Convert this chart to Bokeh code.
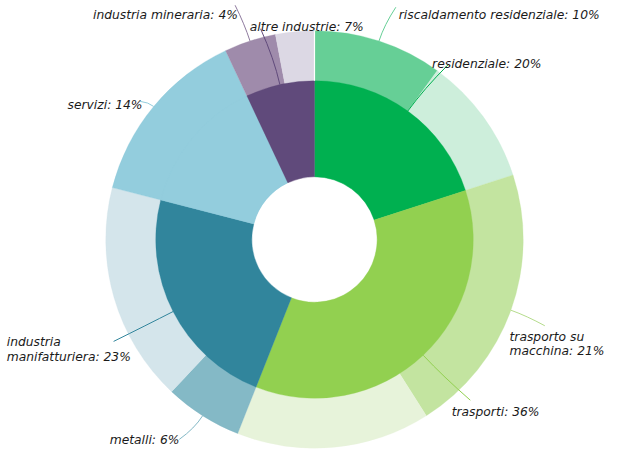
import math
from bokeh.plotting import figure
from bokeh.models import Range1d, ColumnDataSource
from bokeh.embed import file_html
from bokeh.resources import INLINE
from bokeh.core.properties import value

# ---------------- data ----------------
inner_labels = ["residenziale", "trasporti", "industria manifatturiera", "servizi", "altre industrie"]
inner_values = [20, 36, 23, 14, 7]
inner_colors = ["#00b050", "#92d050", "#31859c", "#93cddd", "#604a7b"]

outer_parents = [0, 0, 1, 1, 2, 2, 3, 4, 4]
outer_labels = ["riscaldamento residenziale", "", "trasporto su macchina", "", "metalli", "", "", "industria mineraria", ""]
outer_values = [10, 10, 21, 15, 6, 17, 14, 4, 3]
outer_colors = ["#66cf96", "#cdeedb", "#c3e4a0", "#e7f3da", "#84b9c6", "#d4e5eb", "#93cddd", "#9f8bab", "#dcd8e4"]

# ---------------- layout (reference pixel space) ----------------
CX, CY = 328.0, 254.0
R_HOLE, R_MID, R_OUT = 64.0, 162.0, 213.0

label_wrap = {"industria manifatturiera": "industria\nmanifatturiera",
              "trasporto su macchina": "trasporto su\nmacchina"}
# (text left x, first baseline y), (leader end point x, y)
label_layout = {
    "industria mineraria": ((102, 25), (247, 15)),
    "altre industrie": ((262, 37.5), (273, 39)),
    "riscaldamento residenziale": ((414, 25), (411, 17)),
    "residenziale": ((448, 74.5), (464, 76)),
    "servizi": ((76, 117), (150, 113)),
    "industria manifatturiera": ((14, 359), (123, 358)),
    "trasporto su macchina": ((527, 353), (563, 342)),
    "trasporti": ((468, 430), (487, 418)),
    "metalli": ((119, 459), (190, 458)),
}
line_colors = {
    "industria mineraria": "#8e7a9e", "altre industrie": "#604a7b",
    "riscaldamento residenziale": "#66cf96", "residenziale": "#00b050",
    "servizi": "#93cddd", "industria manifatturiera": "#31859c",
    "trasporto su macchina": "#b5dc8c", "trasporti": "#92d050", "metalli": "#84b9c6",
}

S = 0.98
W, H = 611, 452
FCX, FCY = 314.0, 239.0
x0 = CX - FCX / S
x1 = CX + (W - FCX) / S
ytop = CY - FCY / S
ybot = CY + (H - FCY) / S

p = figure(width=W, height=H, output_backend="svg", toolbar_location=None,
           x_range=Range1d(x0, x1), y_range=Range1d(-ybot, -ytop),
           min_border=0, outline_line_color=None)
p.axis.visible = False
p.grid.visible = False
p.background_fill_color = "white"
p.border_fill_color = "white"


def ang(a):
    return math.radians(90 - a)


total = float(sum(inner_values))
inner_start, inner_end = [], []
acc = 0.0
for v in inner_values:
    inner_start.append(acc / total * 360)
    acc += v
    inner_end.append(acc / total * 360)

outer_start, outer_end = [], []
acc = 0.0
for v in outer_values:
    outer_start.append(acc / total * 360)
    acc += v
    outer_end.append(acc / total * 360)

# outer wedges (drawn from hole to outer radius, inner ring overlays)
osrc = ColumnDataSource(dict(
    sa=[ang(a) for a in outer_start], ea=[ang(a) for a in outer_end],
    c=outer_colors))
p.annular_wedge(x=CX, y=-CY, inner_radius=R_HOLE, outer_radius=R_OUT,
                start_angle="sa", end_angle="ea", direction="clock",
                fill_color="c", line_color="c", line_width=0.3, source=osrc)

isrc = ColumnDataSource(dict(
    sa=[ang(a) for a in inner_start], ea=[ang(a) for a in inner_end],
    c=inner_colors))
p.annular_wedge(x=CX, y=-CY, inner_radius=R_HOLE, outer_radius=R_MID,
                start_angle="sa", end_angle="ea", direction="clock",
                fill_color="c", line_color="c", line_width=0.3, source=isrc)

# white separator at the top of the outer ring
p.segment(x0=[CX], y0=[-(CY - R_MID)], x1=[CX], y1=[-(CY - R_OUT)],
          line_color="white", line_width=1.2)

# labels & leaders
items = []
for i, lab in enumerate(inner_labels):
    full = any(outer_parents[j] == i and outer_values[j] == inner_values[i] for j in range(len(outer_values)))
    r = R_OUT if full else R_MID
    items.append((lab, inner_values[i], (inner_start[i] + inner_end[i]) / 2, r))
for j, lab in enumerate(outer_labels):
    if lab:
        items.append((lab, outer_values[j], (outer_start[j] + outer_end[j]) / 2, R_OUT))

tx, ty, tt = [], [], []
qx0, qy0, qx1, qy1, qcx, qcy, qc = [], [], [], [], [], [], []
for lab, v, mid, r in items:
    (lx, ly), (ex, ey) = label_layout[lab]
    txt = label_wrap.get(lab, lab) + ": %d%%" % v
    for k, line in enumerate(txt.split("\n")):
        tx.append(lx)
        ty.append(-(ly + 14.5 * k))
        tt.append(line)
    dx, dy = math.sin(math.radians(mid)), -math.cos(math.radians(mid))
    px0, py0 = CX + r * dx, CY + r * dy
    d = math.hypot(ex - px0, ey - py0)
    qx0.append(px0); qy0.append(-py0)
    qx1.append(ex); qy1.append(-ey)
    qcx.append(px0 + dx * d * 0.45); qcy.append(-(py0 + dy * d * 0.45))
    qc.append(line_colors[lab])

p.quadratic(x0=qx0, y0=qy0, x1=qx1, y1=qy1, cx=qcx, cy=qcy,
            line_color=qc, line_width=1)

p.text(x=tx, y=ty, text=tt, text_font=value("DejaVu Sans"),
       text_font_style="italic", text_font_size="12.3px",
       text_baseline="alphabetic", text_align="left", text_color="#1a1a1a")

open("out.html", "w").write(file_html(p, INLINE))
